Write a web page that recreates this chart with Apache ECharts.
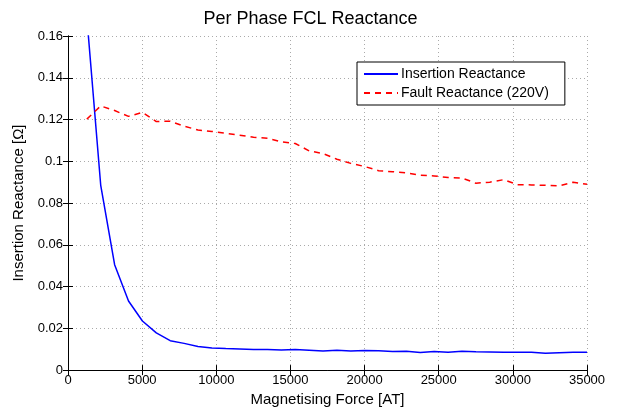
<!DOCTYPE html>
<html>
<head>
<meta charset="utf-8">
<script src="https://cdn.jsdelivr.net/npm/echarts@6/dist/echarts.min.js"></script>
<style>
	html, body { margin: 0; padding: 0; background: #fff; }
	#chart { width: 621px; height: 412px; }
</style>
</head>
<body>
<div id="chart"></div>
<script>
// magnetising force [AT]
var force = [1270, 2207, 3144, 4081, 5018, 5955, 6892, 7829, 8766, 9703, 10640, 11577, 12514, 13451, 14388, 15325, 16262, 17199, 18136, 19073, 20010, 20947, 21884, 22821, 23758, 24695, 25632, 26569, 27506, 28443, 29380, 30317, 31254, 32191, 33128, 34065, 35002]
// insertion reactance [ohm]
var insertion = [0.169, 0.0885, 0.0505, 0.0331, 0.0235, 0.0178, 0.0141, 0.0128, 0.0113, 0.0106, 0.0103, 0.0101, 0.0099, 0.0099, 0.0096, 0.0099, 0.0095, 0.0091, 0.0095, 0.0092, 0.0094, 0.0093, 0.0089, 0.009, 0.0084, 0.0089, 0.0086, 0.009, 0.0088, 0.0087, 0.0086, 0.0086, 0.0085, 0.0081, 0.0083, 0.0085, 0.0085]
// fault reactance (220V) [ohm]
var fault = [0.1202, 0.1265, 0.1243, 0.1215, 0.1234, 0.119, 0.1192, 0.1168, 0.115, 0.1143, 0.1134, 0.1125, 0.1115, 0.111, 0.1093, 0.1085, 0.105, 0.1037, 0.101, 0.099, 0.0975, 0.0955, 0.095, 0.0945, 0.0933, 0.093, 0.0922, 0.092, 0.0895, 0.09, 0.0912, 0.0888, 0.0887, 0.0885, 0.0882, 0.09, 0.089]

var font = 'Liberation Sans, Arial, Helvetica, sans-serif'

function pairs(ys) {
	return force.map(function (x, i) {
		return [x, ys[i]]
	})
}

var chart = echarts.init(document.getElementById('chart'), null, { renderer: 'canvas' })

// frame axes (top / right) - ticks only, no labels
var frameX = {
	type: 'value', min: 0, max: 35000, interval: 5000, position: 'top',
	axisLine: { show: true, lineStyle: { color: '#000', width: 1 } },
	axisTick: { show: true, inside: true, length: 5, lineStyle: { color: '#000' } },
	axisLabel: { show: false }, splitLine: { show: false }
}
var frameY = {
	type: 'value', min: 0, max: 0.16, interval: 0.02, position: 'right',
	axisLine: { show: true, lineStyle: { color: '#000', width: 1 } },
	axisTick: { show: true, inside: true, length: 5, lineStyle: { color: '#000' } },
	axisLabel: { show: false }, splitLine: { show: false }
}

chart.setOption({
	backgroundColor: '#fff',
	animation: false,
	textStyle: { fontFamily: font },
	title: {
		text: 'Per Phase FCL Reactance',
		left: 'center',
		top: 5,
		textStyle: { fontFamily: font, fontSize: 18, fontWeight: 'normal', color: '#000' }
	},
	grid: { left: 68, right: 34, top: 36, bottom: 41 },
	legend: {
		orient: 'vertical',
		left: 357,
		top: 62,
		padding: [5, 16, 5, 6],
		itemGap: 5,
		itemWidth: 34,
		itemHeight: 12,
		backgroundColor: '#fff',
		borderColor: '#000',
		borderWidth: 1,
		itemStyle: { opacity: 0, borderWidth: 0 },
		textStyle: { fontFamily: font, fontSize: 14, color: '#000', padding: [0, 0, 0, -2] },
		data: ['Insertion Reactance', 'Fault Reactance (220V)']
	},
	xAxis: [{
		type: 'value',
		min: 0,
		max: 35000,
		interval: 5000,
		name: 'Magnetising Force [AT]',
		nameLocation: 'middle',
		nameGap: 18,
		nameTextStyle: { fontFamily: font, fontSize: 15, color: '#000' },
		axisLine: { show: true, lineStyle: { color: '#000', width: 1 } },
		axisTick: { show: true, inside: true, length: 5, lineStyle: { color: '#000' } },
		axisLabel: {
			fontFamily: font, fontSize: 13, color: '#000', margin: 4,
			formatter: function (v) { return String(v) }
		},
		splitLine: { show: true, lineStyle: { color: '#aaa', type: [1, 3] } }
	}, frameX],
	yAxis: [{
		type: 'value',
		min: 0,
		max: 0.16,
		interval: 0.02,
		name: 'Insertion Reactance [Ω]',
		nameLocation: 'middle',
		nameGap: 38,
		nameTextStyle: { fontFamily: font, fontSize: 15, color: '#000' },
		axisLine: { show: true, lineStyle: { color: '#000', width: 1 } },
		axisTick: { show: true, inside: true, length: 5, lineStyle: { color: '#000' } },
		axisLabel: { fontFamily: font, fontSize: 13, color: '#000', margin: 5 },
		splitLine: { show: true, lineStyle: { color: '#aaa', type: [1, 3] } }
	}, frameY],
	series: [
		{
			name: 'Insertion Reactance',
			type: 'line',
			xAxisIndex: 0,
			yAxisIndex: 0,
			symbol: 'none',
			clip: true,
			color: '#0000ff',
			lineStyle: { color: '#0000ff', width: 1.5 },
			data: pairs(insertion)
		},
		{
			name: 'Fault Reactance (220V)',
			type: 'line',
			xAxisIndex: 0,
			yAxisIndex: 0,
			symbol: 'none',
			clip: true,
			color: '#ff0000',
			lineStyle: { color: '#ff0000', width: 1.5, type: [6, 5] },
			data: pairs(fault)
		}
	]
})
</script>
</body>
</html>
